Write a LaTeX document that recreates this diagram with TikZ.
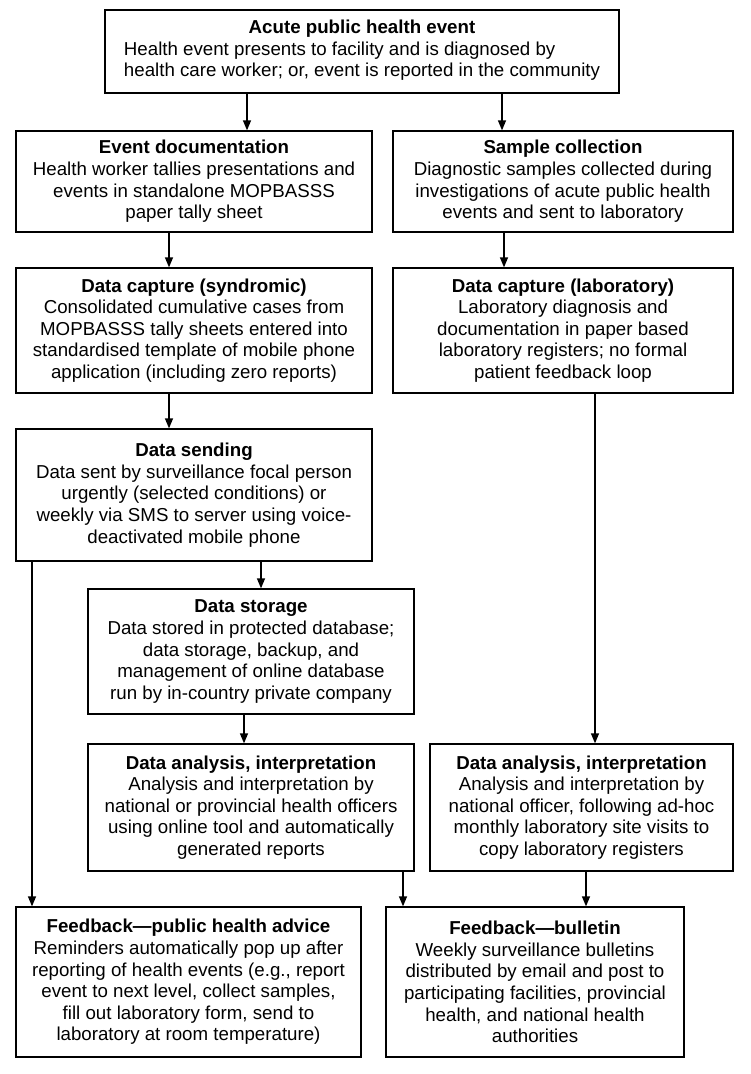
\documentclass[tikz,border=0pt]{standalone}
\usepackage{fontspec}
\setmainfont{Liberation Sans}
\usetikzlibrary{arrows.meta}
\tikzset{
  box/.style={draw=black, line width=1.3pt, inner sep=0pt, align=center,
    font=\fontsize{18.7}{21.6}\selectfont, text=black},
  arr/.style={draw=black, line width=1.3pt, -{Triangle[length=10pt,width=8pt]}},
  plain/.style={draw=black, line width=1.3pt}
}
\begin{document}
\begin{tikzpicture}[x=1pt,y=-1pt]
\useasboundingbox (0,0) rectangle (750,1074);
\node[box, minimum width=514pt, minimum height=83pt] (top) at (362,51.5)
  {\textbf{Acute public health event}\\\begin{tabular}[t]{@{}l@{}}Health event presents to facility and is diagnosed by\\health care worker; or, event is reported in the community\end{tabular}};
\node[box, minimum width=356pt, minimum height=101pt] (evt) at (194,181.5)
  {\textbf{Event documentation}\\Health worker tallies presentations and\\events in standalone MOPBASSS\\paper tally sheet};
\node[box, minimum width=340pt, minimum height=101pt] (smp) at (563,181.5)
  {\textbf{Sample collection}\\Diagnostic samples collected during\\investigations of acute public health\\events and sent to laboratory};
\node[box, minimum width=356pt, minimum height=125pt] (csyn) at (194,330.5)
  {\textbf{Data capture (syndromic)}\\Consolidated cumulative cases from\\MOPBASSS tally sheets entered into\\standardised template of mobile phone\\application (including zero reports)};
\node[box, minimum width=340pt, minimum height=125pt] (clab) at (563,330.5)
  {\textbf{Data capture (laboratory)}\\Laboratory diagnosis and\\documentation in paper based\\laboratory registers; no formal\\patient feedback loop};
\node[box, minimum width=356pt, minimum height=132pt] (send) at (194,495)
  {\textbf{Data sending}\\Data sent by surveillance focal person\\urgently (selected conditions) or\\weekly via SMS to server using voice-\\deactivated mobile phone};
\node[box, minimum width=326pt, minimum height=125pt] (stor) at (251,651.5)
  {\textbf{Data storage}\\Data stored in protected database;\\data storage, backup, and\\management of online database\\run by in-country private company};
\node[box, minimum width=326pt, minimum height=127pt] (anL) at (251,807.5)
  {\textbf{Data analysis, interpretation}\\Analysis and interpretation by\\national or provincial health officers\\using online tool and automatically\\generated reports};
\node[box, minimum width=303pt, minimum height=127pt] (anR) at (581.5,807.5)
  {\textbf{Data analysis, interpretation}\\Analysis and interpretation by\\national officer, following ad-hoc\\monthly laboratory site visits to\\copy laboratory registers};
\node[box, minimum width=345pt, minimum height=150pt] (fbL) at (188.5,982)
  {\textbf{Feedback---public health advice}\\Reminders automatically pop up after\\reporting of health events (e.g., report\\event to next level, collect samples,\\fill out laboratory form, send to\\laboratory at room temperature)};
\node[box, minimum width=298pt, minimum height=150pt] (fbR) at (535,982)
  {\textbf{Feedback---bulletin}\\Weekly surveillance bulletins\\distributed by email and post to\\participating facilities, provincial\\health, and national health\\authorities};
% connectors
\draw[arr] ([xshift=-115pt]top.south) -- ([xshift=-115pt]top.south |- evt.north);
\draw[arr] ([xshift=140pt]top.south) -- ([xshift=140pt]top.south |- smp.north);
\draw[arr] ([xshift=-25pt]evt.south) -- ([xshift=-25pt]evt.south |- csyn.north);
\draw[arr] ([xshift=-59pt]smp.south) -- ([xshift=-59pt]smp.south |- clab.north);
\draw[arr] ([xshift=-25pt]csyn.south) -- ([xshift=-25pt]csyn.south |- send.north);
\draw[arr] ([xshift=67pt]send.south) -- ([xshift=67pt]send.south |- stor.north);
\draw[arr] ([xshift=-7pt]stor.south) -- ([xshift=-7pt]stor.south |- anL.north);
\draw[arr] ([xshift=32pt]clab.south) -- ([xshift=32pt]clab.south |- anR.north);
\draw[arr] ([xshift=-162pt]send.south) -- ([xshift=-162pt]send.south |- fbL.north);
\draw[arr] ([xshift=152pt]anL.south) -- ([xshift=152pt]anL.south |- fbR.north);
\draw[arr] ([xshift=4.5pt]anR.south) -- ([xshift=4.5pt]anR.south |- fbR.north);
\end{tikzpicture}
\end{document}
